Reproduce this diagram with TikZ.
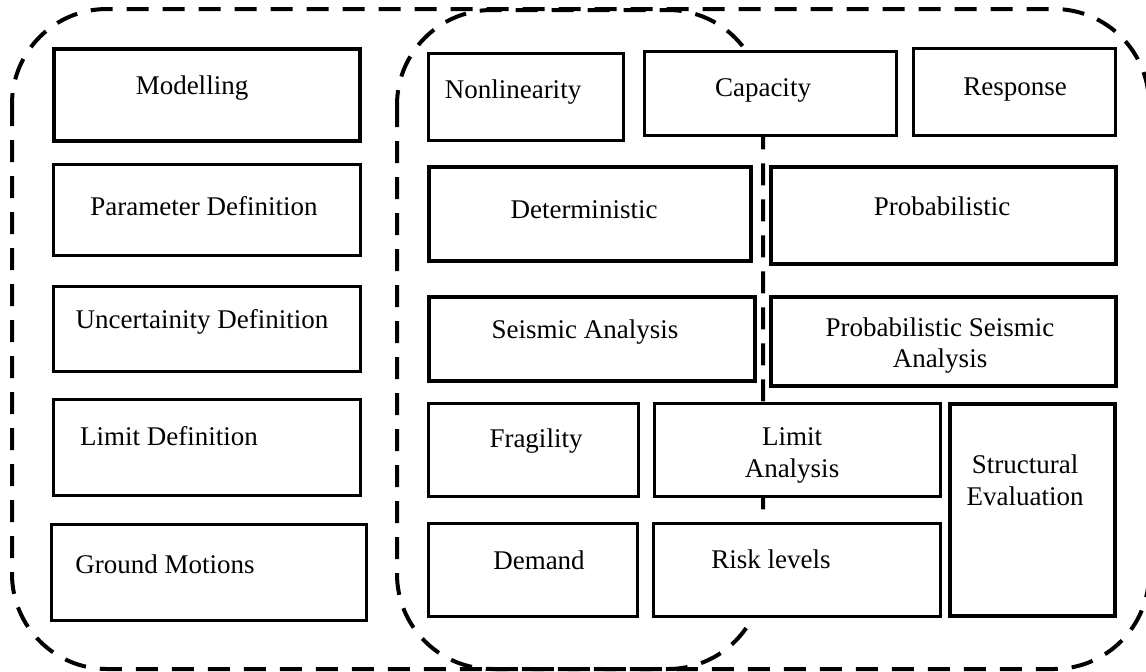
\documentclass[tikz,border=0pt]{standalone}
\usepackage{fontspec}
\setmainfont{Liberation Serif}
\begin{document}
\begin{tikzpicture}[x=1pt,y=-1pt,
  box/.style={draw=black,fill=white,line width=3pt,inner sep=0pt,minimum width=#1},
  thick box/.style={box=#1,line width=4pt},
  txt/.style={anchor=base,inner sep=0pt,font=\fontsize{27}{31}\selectfont},
  grp/.style={draw=black,line width=4pt,dash pattern=on 22pt off 14pt,rounded corners=95pt}]
\useasboundingbox (0,0) rectangle (1146,672);
% group outlines
\draw[grp] (12,9) rectangle (1149,669);
\draw[grp] (397,10) rectangle (763,669);
% left column
\node[thick box=306, minimum height=92] (mod) at (207,95) {};
\node[box=307, minimum height=91] (par) at (207,210) {};
\node[box=307, minimum height=85] (unc) at (207,329) {};
\node[box=307, minimum height=96] (lim) at (207,447.5) {};
\node[box=315, minimum height=96] (gro) at (209,572.5) {};
\node[txt] (modT) at (192,94) {Modelling};
\node[txt] (parT) at (204,215) {Parameter Definition};
\node[txt] (uncT) at (202,328) {Uncertainity Definition};
\node[txt] (limT) at (169,445) {Limit Definition};
\node[txt] (groT) at (165,573) {Ground Motions};
% right area
\node[box=195, minimum height=87] (non) at (526,97) {};
\node[box=252, minimum height=84] (cap) at (770.5,93.5) {};
\node[box=202, minimum height=87] (res) at (1014.5,92) {};
\node[thick box=322, minimum height=94] (det) at (590,214) {};
\node[thick box=345, minimum height=97] (pro) at (943.5,215.5) {};
\node[thick box=326, minimum height=84] (sei) at (592,339) {};
\node[thick box=345, minimum height=89] (pse) at (943.5,341.5) {};
\node[box=210, minimum height=93] (fra) at (533.5,450) {};
\node[box=286, minimum height=93] (lan) at (797.5,450) {};
\node[box=209, minimum height=93] (dem) at (533,570) {};
\node[box=287, minimum height=93] (ris) at (797,570) {};
\node[thick box=165, minimum height=212] (str) at (1032.5,510) {};
\node[txt] (nonT) at (513,98) {Nonlinearity};
\node[txt] (capT) at (763,96) {Capacity};
\node[txt] (resT) at (1015,95) {Response};
\node[txt] (detT) at (584,218) {Deterministic};
\node[txt] (proT) at (942,215) {Probabilistic};
\node[txt] (seiT) at (585,338) {Seismic Analysis};
\node[txt] (pseT1) at (940,336) {Probabilistic Seismic};
\node[txt] (pseT2) at (940,367) {Analysis};
\node[txt] (fraT) at (536,447) {Fragility};
\node[txt] (lanT1) at (792,445) {Limit};
\node[txt] (lanT2) at (792,477) {Analysis};
\node[txt] (demT) at (539,569) {Demand};
\node[txt] (risT) at (771,568) {Risk levels};
\node[txt] (strT1) at (1025,473) {Structural};
\node[txt] (strT2) at (1025,505) {Evaluation};
\end{tikzpicture}
\end{document}
